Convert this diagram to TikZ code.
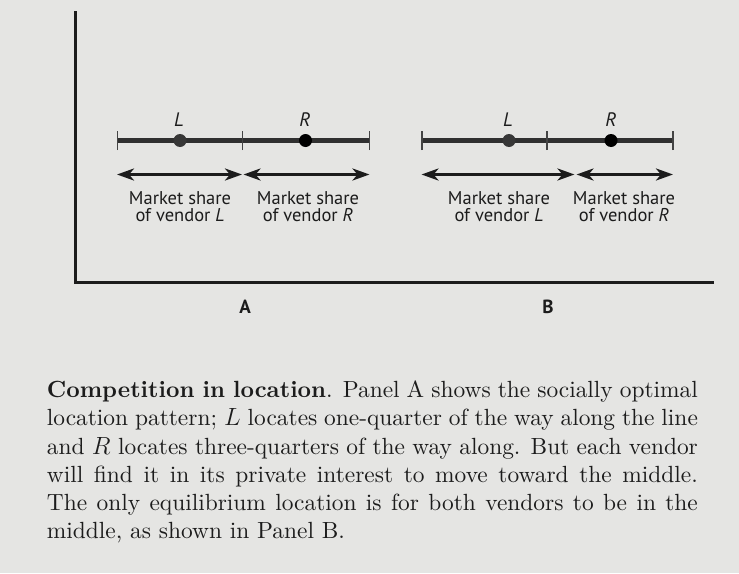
\documentclass[tikz,border=0pt]{standalone}
\usepackage{fontspec}
\usetikzlibrary{arrows.meta}
\setmainfont{lmroman10-regular.otf}[BoldFont=lmroman10-bold.otf, ItalicFont=lmroman10-italic.otf, BoldItalicFont=lmroman10-bolditalic.otf]
\newfontfamily\dsf{PT Sans}
\definecolor{paper}{RGB}{229,229,227}
\definecolor{ink}{RGB}{28,28,28}
\definecolor{ldot}{RGB}{55,55,55}
\tikzset{
  axisline/.style={line width=3pt, draw=ink},
  segline/.style={line width=4.5pt, draw=ink!90!paper},
  tickmark/.style={line width=1.2pt, draw=ink!80!paper},
  sharearrow/.style={line width=3pt, draw=ink, {Stealth[length=17pt,width=12pt,inset=5pt]}-{Stealth[length=17pt,width=12pt,inset=5pt]}},
  dotL/.style={circle, fill=ldot, minimum size=13pt, inner sep=0pt},
  dotR/.style={circle, fill=black, minimum size=13pt, inner sep=0pt},
  vlabel/.style={font=\dsf\fontsize{19.5}{19.5}\selectfont\itshape, text=ink, inner sep=0pt, anchor=base},
  sharetext/.style={font=\dsf\fontsize{18.5}{17}\selectfont, text=ink, align=center, inner sep=0pt, anchor=north},
  panellabel/.style={font=\dsf\bfseries\fontsize{19}{19}\selectfont, text=ink, inner sep=0pt},
}
\begin{document}
\begin{tikzpicture}[x=1pt,y=-1pt]
\useasboundingbox (0,0) rectangle (739,573);
\fill[paper] (0,0) rectangle (739,573);
% axes
\coordinate (ytop) at (75.5,11);
\coordinate (origin) at (75.5,282);
\coordinate (xend) at (714,282);
\draw[axisline] (ytop) -- (origin) -- (xend);
% Panel A
\coordinate (a0) at (117.5,140.5);
\coordinate (am) at (242.5,140.5);
\coordinate (a1) at (369.5,140.5);
\draw[segline] (a0) -- (a1);
\foreach \p in {a0,am,a1} \draw[tickmark] ([yshift=-9.5pt]\p) -- ([yshift=9.5pt]\p);
\node[dotL] (aL) at (180,140.5) {};
\node[dotR] (aR) at (305.5,140.5) {};
\node[vlabel] (aLl) at (179,126) {L};
\node[vlabel] (aRl) at (305,126) {R};
\coordinate (aa0) at (117,174.5);
\coordinate (aam) at (242,174.5);
\coordinate (aam2) at (243.5,174.5);
\coordinate (aa1) at (369.5,174.5);
\draw[sharearrow] (aa0) -- (aam);
\draw[sharearrow] (aam2) -- (aa1);
\node[sharetext] (aLt) at (180,191) {Market share\\of vendor \textit{L}};
\node[sharetext] (aRt) at (308,191) {Market share\\of vendor \textit{R}};
\node[panellabel] (pA) at (245,307) {A};
% Panel B
\coordinate (b0) at (422,140.5);
\coordinate (bm) at (547,140.5);
\coordinate (b1) at (673,140.5);
\draw[segline] (b0) -- (b1);
\foreach \p in {b0,bm,b1} \draw[tickmark] ([yshift=-9.5pt]\p) -- ([yshift=9.5pt]\p);
\node[dotL] (bL) at (509,140.5) {};
\node[dotR] (bR) at (611,140.5) {};
\node[vlabel] (bLl) at (508,126) {L};
\node[vlabel] (bRl) at (611,126) {R};
\coordinate (bb0) at (421.5,174.5);
\coordinate (bbm) at (574.5,174.5);
\coordinate (bbm2) at (576.5,174.5);
\coordinate (bb1) at (673,174.5);
\draw[sharearrow] (bb0) -- (bbm);
\draw[sharearrow] (bbm2) -- (bb1);
\node[sharetext] (bLt) at (499,191) {Market share\\of vendor \textit{L}};
\node[sharetext] (bRt) at (624,191) {Market share\\of vendor \textit{R}};
\node[panellabel] (pB) at (548,307) {B};
% caption
\node[anchor=north west, inner sep=0pt, text width=651pt, align=justify, text=ink,
      font=\fontsize{23.4}{28.3}\selectfont] (cap) at (46.7,380.5)
{\hyphenpenalty=10000\tolerance=10000
\textbf{Competition in location}. Panel A shows the socially optimal\linebreak
location pattern; $L$ locates one-quarter of the way along the line\linebreak
and $R$ locates three-quarters of the way along. But each vendor\linebreak
will find it in its private interest to move toward the middle.\linebreak
The only equilibrium location is for both vendors to be in the\linebreak
middle, as shown in Panel B.};
\end{tikzpicture}
\end{document}
